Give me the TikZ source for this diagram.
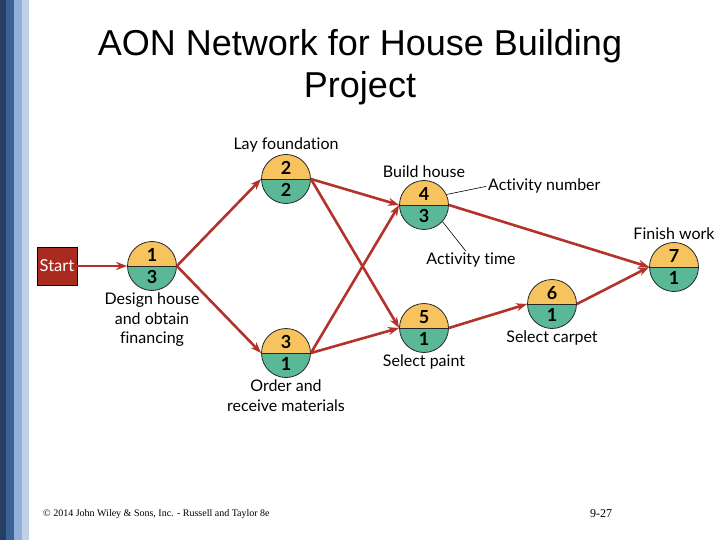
\documentclass[tikz,border=0pt]{standalone}
\usepackage{fontspec}
\setmainfont{Liberation Serif}
\newfontfamily\titlefont{Liberation Sans}
\newfontfamily\lblfont[Ligatures={NoCommon}]{Lato}
\usetikzlibrary{positioning, arrows.meta, shapes.multipart}

\definecolor{aonyellow}{HTML}{F7C35F}
\definecolor{aonteal}{HTML}{5BB897}
\definecolor{aonred}{HTML}{B3322A}
\definecolor{startred}{HTML}{A92A1F}
\definecolor{stripea}{HTML}{253E62}
\definecolor{stripeb}{HTML}{3A6298}
\definecolor{stripec}{HTML}{93B0D8}
\definecolor{striped}{HTML}{BFD1EA}

\begin{document}
\begin{tikzpicture}[x=1pt, y=-1pt, node distance=2pt and 4pt,
  arrow/.style={-{Stealth[length=11pt, width=8pt]}, line width=2.6pt, draw=aonred},
  aon/.style={circle split, draw=black!85, line width=0.8pt, minimum size=49pt, inner sep=4pt, font=\lblfont\bfseries\fontsize{18}{18}\selectfont,
    path picture={\fill[aonyellow] (path picture bounding box.north west) rectangle (path picture bounding box.east);
      \fill[aonteal] (path picture bounding box.west) rectangle (path picture bounding box.south east);}},
  lbl/.style={font=\lblfont\fontsize{16}{19.5}\selectfont, inner sep=0pt, align=center},
  callout/.style={draw=black, line width=0.6pt}]
\useasboundingbox (0,0) rectangle (720,540);
% side stripes
\fill[stripea] (0,0) rectangle (6,540);
\fill[stripeb] (6,0) rectangle (14,540);
\fill[stripec] (14,0) rectangle (22,540);
\fill[striped] (22,0) rectangle (29,540);

\node[font=\titlefont\fontsize{36}{42}\selectfont, align=center, inner sep=0pt] (title) at (360,67) {AON Network for House Building\\Project};

% activities
\node[draw=black, line width=0.8pt, fill=startred, text=white, font=\lblfont\fontsize{16.5}{16.5}\selectfont, minimum width=40pt, minimum height=38pt, inner sep=0pt] (start) at (57,266) {Start};
\node[aon] (n1) at (152,266) {1\nodepart{lower}3};
\node[aon] (n2) at (286,179) {2\nodepart{lower}2};
\node[aon] (n3) at (286,353) {3\nodepart{lower}1};
\node[aon] (n4) at (424,205) {4\nodepart{lower}3};
\node[aon] (n5) at (424,328) {5\nodepart{lower}1};
\node[aon] (n6) at (552,304) {6\nodepart{lower}1};
\node[aon] (n7) at (674,267) {7\nodepart{lower}1};

% labels
\node[lbl, above=of n2] (lay) {Lay foundation};
\node[lbl, below=of n1] (design) {Design house\\and obtain\\financing};
\node[lbl, below=of n3] (order) {Order and\\receive materials};
\node[lbl, above=of n4] (build) {Build house};
\node[lbl, below=of n5] (paint) {Select paint};
\node[lbl, below=of n6] (carpet) {Select carpet};
\node[lbl, above=of n7] (finish) {Finish work};
\node[lbl, anchor=west] (anum) at (488,186) {Activity number};
\node[lbl] (atime) at (471,260) {Activity time};
\draw[callout, shorten >=2pt] (n4.25) -- (anum.west);
\draw[callout, shorten >=2pt] (n4.-42) -- ([xshift=-4pt]atime.north);

% precedence
\draw[arrow] (start) -- (n1.west);
\draw[arrow] (n1.east) -- (n2.west);
\draw[arrow] (n1.east) -- (n3.west);
\draw[arrow] (n2.east) -- (n4.west);
\draw[arrow] (n2.east) -- (n5.west);
\draw[arrow] (n3.east) -- (n4.west);
\draw[arrow] (n3.east) -- (n5.west);
\draw[arrow] (n4.east) -- (n7.west);
\draw[arrow] (n5.east) -- (n6.west);
\draw[arrow] (n6.east) -- (n7.west);

% footer
\node[font=\fontsize{10}{10}\selectfont, anchor=base west, inner sep=0pt] (copy) at (43,516) {\textcopyright{} 2014 John Wiley \& Sons, Inc. - Russell and Taylor 8e};
\node[font=\fontsize{12}{12}\selectfont, anchor=base west, inner sep=0pt] (page) at (590,517) {9-27};
\end{tikzpicture}
\end{document}
